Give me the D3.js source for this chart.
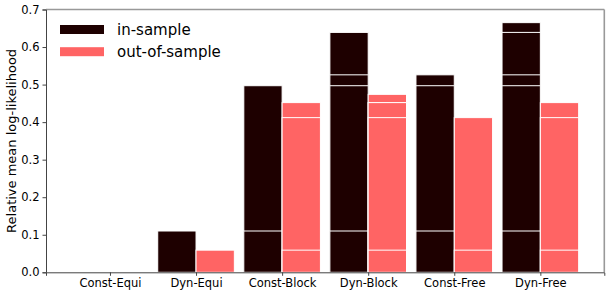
<!DOCTYPE html>
<html>
<head>
<meta charset="utf-8">
<script src="https://cdn.jsdelivr.net/npm/d3@7"></script>
<style>
  html, body { margin: 0; padding: 0; background: #fff; }
  svg { display: block; font-family: "DejaVu Sans", sans-serif; }
</style>
</head>
<body>
<svg id="chart" width="614" height="296"></svg>
<script>
const categories = ["Const-Equi", "Dyn-Equi", "Const-Block", "Dyn-Block", "Const-Free", "Dyn-Free"];
const inSample  = [0, 0.110, 0.497, 0.639, 0.526, 0.665];
const outSample = [0, 0.059, 0.452, 0.474, 0.412, 0.452];
const yTicks = [0, 0.1, 0.2, 0.3, 0.4, 0.5, 0.6, 0.7];
const seriesNames = ["in-sample", "out-of-sample"];
const seriesColors = ["#1e0000", "#ff6464"];

const W = 614, H = 296;
const L = 46, R = 604.3, T = 9.5, B = 272.3;
const svg = d3.select("#chart");

const x = d3.scaleLinear().domain([-0.743, categories.length - 1 + 0.743]).range([L, R]);
const y = d3.scaleLinear().domain([0, 0.7]).range([B, T]);
const bw = 0.445;

const series = [inSample, outSample];
series.forEach((vals, s) => {
  const g = svg.append("g");
  vals.forEach((v, i) => {
    // this model's bar plus every lower-scoring model's bar, drawn tallest first
    const layers = vals.filter((u, j) => j === i || u < v).sort((a, b) => b - a);
    const x0 = s === 0 ? x(i - bw) : x(i);
    const x1 = s === 0 ? x(i) : x(i + bw);
    layers.forEach(u => {
      if (u <= 0) return;
      g.append("rect")
        .attr("x", x0).attr("width", x1 - x0)
        .attr("y", y(u)).attr("height", y(0) - y(u))
        .attr("fill", seriesColors[s])
        .attr("stroke", "#ffffff")
        .attr("stroke-width", 1);
    });
  });
});

// spines
svg.append("line").attr("x1", L).attr("x2", R).attr("y1", T).attr("y2", T)
  .attr("stroke", "#999").attr("stroke-width", 1.6);
svg.append("line").attr("x1", R).attr("x2", R).attr("y1", T).attr("y2", B)
  .attr("stroke", "#999").attr("stroke-width", 1.6);

// y axis
const yAxis = d3.axisLeft(y).tickValues(yTicks).tickFormat(d3.format(".1f")).tickSize(3.5).tickPadding(3);
const gy = svg.append("g").attr("transform", `translate(${L},0)`).call(yAxis);
gy.select(".domain").attr("stroke", "#444");
gy.selectAll(".tick line").attr("stroke", "#444");
gy.selectAll("text").attr("font-size", "11.5px").attr("fill", "#000").attr("font-family", "DejaVu Sans");

// x axis
const xAxis = d3.axisBottom(x).tickValues(d3.range(categories.length)).tickFormat(i => categories[i]).tickSize(3.5).tickPadding(3);
const gx = svg.append("g").attr("transform", `translate(0,${B})`).call(xAxis);
gx.select(".domain").attr("stroke", "#444");
gx.selectAll(".tick line").attr("stroke", "#444");
gx.selectAll("text").attr("font-size", "11.5px").attr("fill", "#000").attr("font-family", "DejaVu Sans");

// y label
svg.append("text")
  .attr("transform", `translate(16,${(T + B) / 2}) rotate(-90)`)
  .attr("text-anchor", "middle")
  .attr("font-size", "13px")
  .attr("fill", "#000")
  .text("Relative mean log-likelihood");

// legend
seriesNames.forEach((name, k) => {
  const cy = 29.5 + k * 22.2;
  svg.append("rect").attr("x", 60).attr("y", cy - 4.5).attr("width", 44).attr("height", 9)
    .attr("fill", seriesColors[k]);
  svg.append("text").attr("x", 117).attr("y", cy).attr("dy", "0.35em")
    .attr("font-size", "15px").attr("fill", "#000").text(name);
});
</script>
</body>
</html>
